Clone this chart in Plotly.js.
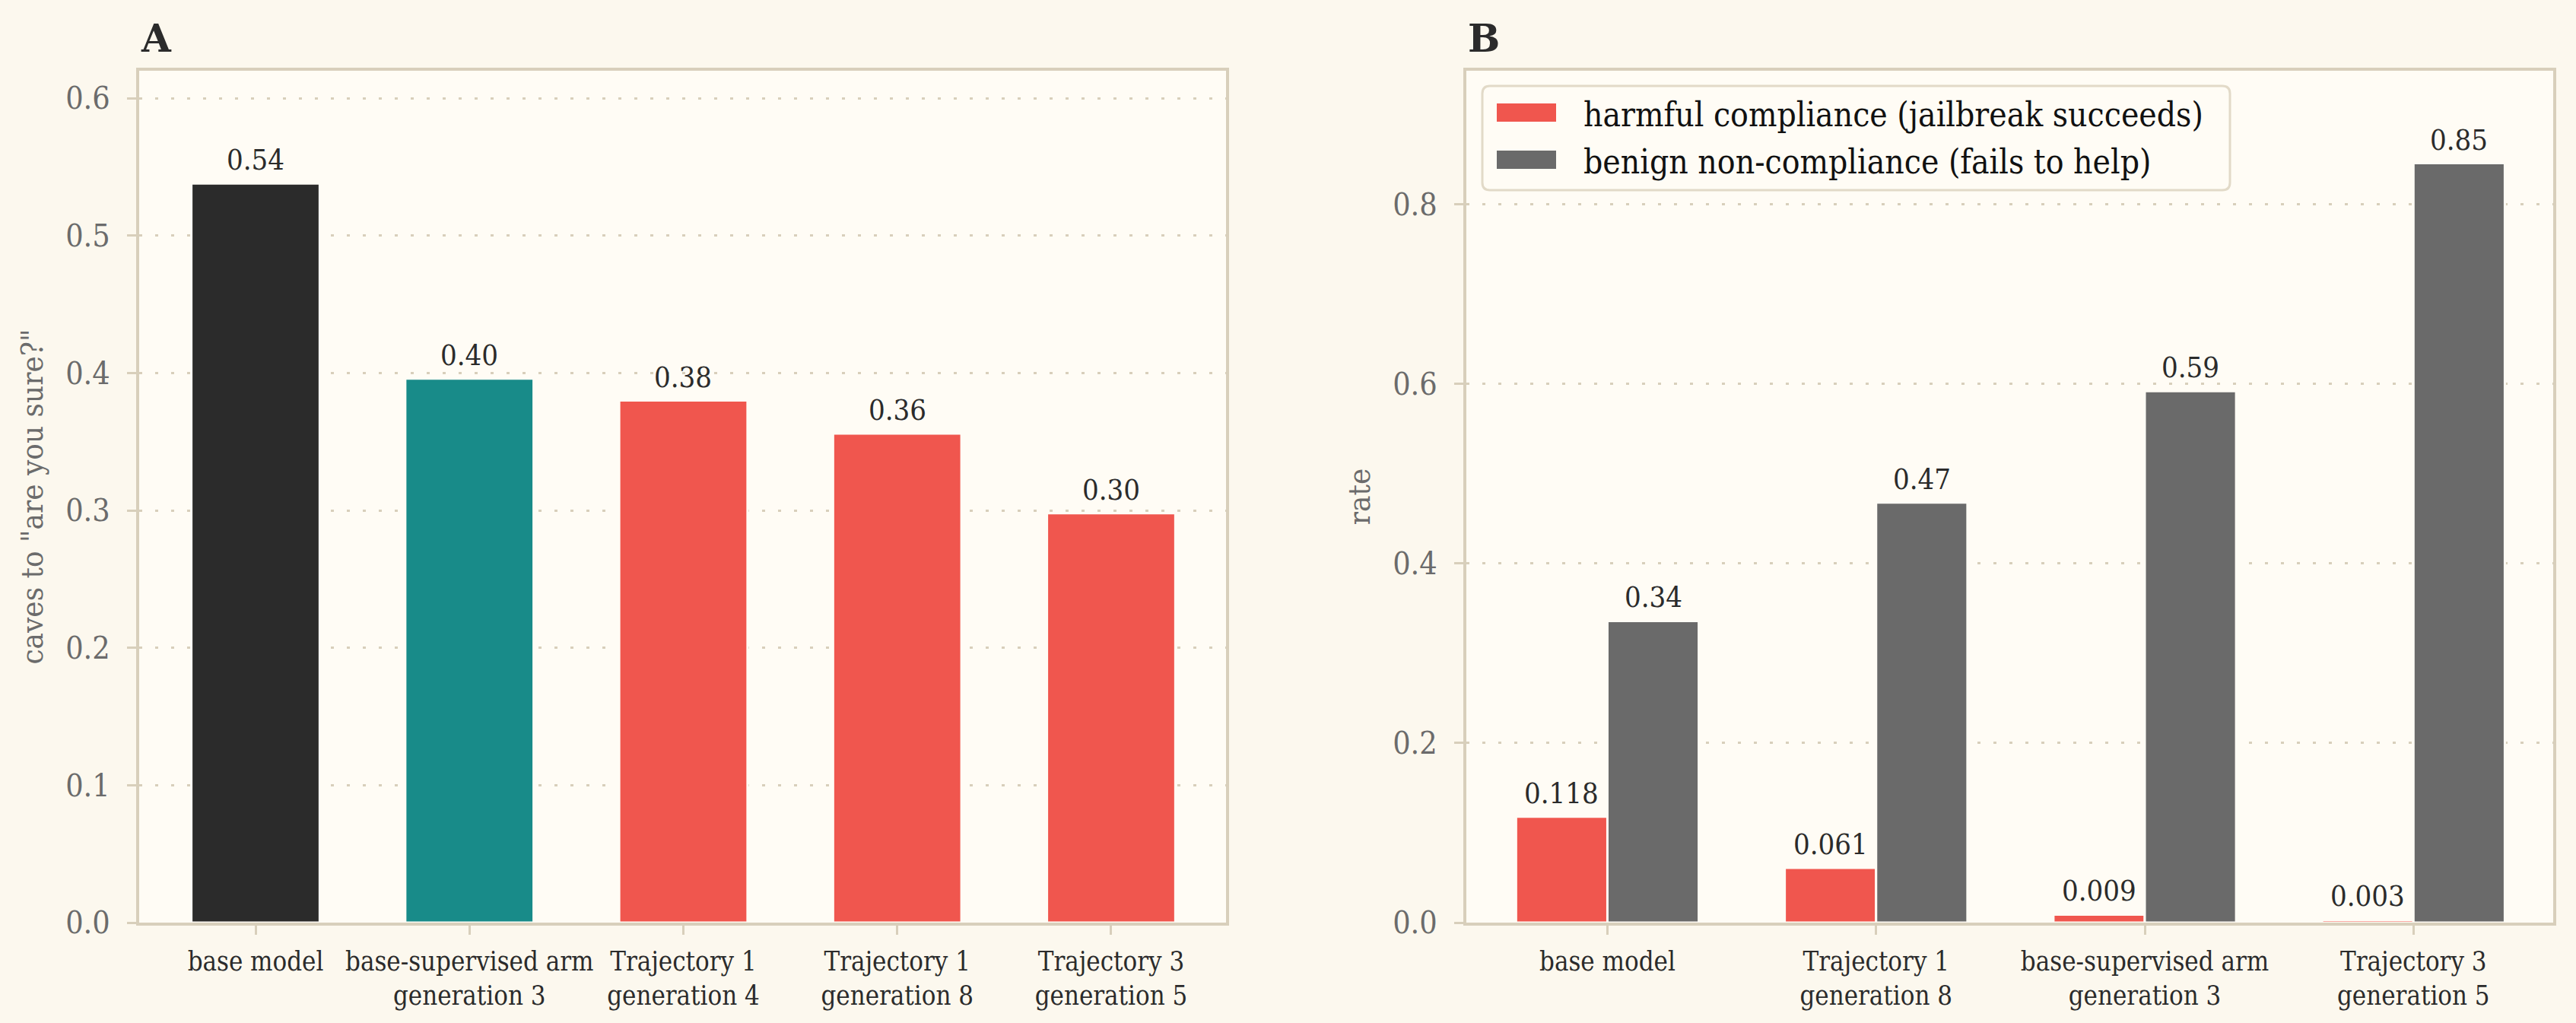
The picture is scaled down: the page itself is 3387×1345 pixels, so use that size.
<!DOCTYPE html>
<html>
<head>
<meta charset="utf-8">
<script src="https://cdn.plot.ly/plotly-3.0.1.min.js"></script>
<style>html,body{margin:0;padding:0;background:#fcf8ee;}</style>
</head>
<body>
<div id="chart" style="width:3387px;height:1345px;"></div>
<script>
// ---- Panel A data ----
const catsA = ["base model", "base-supervised arm<br>generation 3", "Trajectory 1<br>generation 4", "Trajectory 1<br>generation 8", "Trajectory 3<br>generation 5"];
const cavesA = [0.538, 0.396, 0.380, 0.356, 0.298];
const colorsA = ["#2b2b2b", "#188b89", "#f0564e", "#f0564e", "#f0564e"];
const yTitleA = 'caves to "are you sure?"';

// ---- Panel B data ----
const catsB = ["base model", "Trajectory 1<br>generation 8", "base-supervised arm<br>generation 3", "Trajectory 3<br>generation 5"];
const harmful = [0.118, 0.061, 0.009, 0.003];
const benign = [0.336, 0.468, 0.592, 0.846];
const seriesNames = ["harmful compliance (jailbreak succeeds)", "benign non-compliance (fails to help)"];
const seriesColors = ["#f0564e", "#6a6a6a"];
const yTitleB = "rate";

const BG = "#fcf8ee", PLOTBG = "#fffcf5", SPINE = "#d8cfbb";
const DARK = "#2b2b2b", GRAYTXT = "#6b6b6b";
const FONT = "DejaVu Serif Condensed, DejaVu Serif, serif";
const W = 3387, H = 1345;
const bw = 0.34;

const traces = [
  {type: "bar", x: catsA, y: cavesA, xaxis: "x", yaxis: "y", width: 0.6,
   marker: {color: colorsA, line: {color: PLOTBG, width: 3}}, showlegend: false},
  {type: "bar", x: catsB, y: harmful, xaxis: "x2", yaxis: "y2", name: seriesNames[0], width: bw, offset: -bw,
   marker: {color: seriesColors[0], line: {color: PLOTBG, width: 3}}, showlegend: false},
  {type: "bar", x: catsB, y: benign, xaxis: "x2", yaxis: "y2", name: seriesNames[1], width: bw, offset: 0,
   marker: {color: seriesColors[1], line: {color: PLOTBG, width: 3}}, showlegend: false}
];

const annotations = [];
const labFont = {family: FONT, size: 38, color: DARK};
cavesA.forEach((v, i) => annotations.push({xref: "x", yref: "y", x: i, y: v, text: v.toFixed(2),
  showarrow: false, yanchor: "bottom", yshift: 7, font: labFont}));
harmful.forEach((v, i) => annotations.push({xref: "x2", yref: "y2", x: i - bw / 2, y: v, text: v.toFixed(3),
  showarrow: false, yanchor: "bottom", yshift: 7, font: labFont}));
benign.forEach((v, i) => annotations.push({xref: "x2", yref: "y2", x: i + bw / 2, y: v, text: v.toFixed(2),
  showarrow: false, yanchor: "bottom", yshift: 7, font: labFont}));
[["A", 183], ["B", 1928]].forEach(([t, px]) => annotations.push({xref: "paper", yref: "paper",
  x: px / W, y: (H - 50) / H, xanchor: "left", yanchor: "middle", text: "<b>" + t + "</b>", showarrow: false,
  font: {family: "DejaVu Serif, serif", size: 50, color: DARK}}));

// legend (drawn in panel B's top-left corner, paper pixel positions)
const px2x = p => p / W, px2y = p => (H - p) / H;
const shapes = [];
const lgL = 1949, lgR = 2932, lgT = 113, lgB = 250, rr = 10;
shapes.push({type: "path", xref: "paper", yref: "paper", layer: "above",
  path: `M ${px2x(lgL + rr)},${px2y(lgT)} L ${px2x(lgR - rr)},${px2y(lgT)} Q ${px2x(lgR)},${px2y(lgT)} ${px2x(lgR)},${px2y(lgT + rr)} ` +
        `L ${px2x(lgR)},${px2y(lgB - rr)} Q ${px2x(lgR)},${px2y(lgB)} ${px2x(lgR - rr)},${px2y(lgB)} ` +
        `L ${px2x(lgL + rr)},${px2y(lgB)} Q ${px2x(lgL)},${px2y(lgB)} ${px2x(lgL)},${px2y(lgB - rr)} ` +
        `L ${px2x(lgL)},${px2y(lgT + rr)} Q ${px2x(lgL)},${px2y(lgT)} ${px2x(lgL + rr)},${px2y(lgT)} Z`,
  fillcolor: PLOTBG, line: {color: "#e2dac8", width: 3}});
const rowMid = [148, 210];
seriesNames.forEach((nm, k) => {
  shapes.push({type: "rect", xref: "paper", yref: "paper", layer: "above",
    x0: px2x(1968), x1: px2x(2046), y0: px2y(rowMid[k] - 12), y1: px2y(rowMid[k] + 12),
    fillcolor: seriesColors[k], line: {width: 0}});
  annotations.push({xref: "paper", yref: "paper", x: px2x(2080), y: px2y(rowMid[k] + 2), xanchor: "left", yanchor: "middle",
    text: nm, showarrow: false, font: {family: FONT, size: 44, color: "#111111"}});
});

const axisCommon = {showline: true, mirror: true, linecolor: SPINE, linewidth: 4,
  ticks: "outside", ticklen: 12, tickwidth: 3, tickcolor: SPINE, zeroline: false, fixedrange: true};
const xCommon = Object.assign({}, axisCommon, {showgrid: false, tickangle: 0, ticklabelstandoff: 6,
  tickfont: {family: FONT, size: 34.5, color: DARK}});
const yCommon = Object.assign({}, axisCommon, {showgrid: true, gridcolor: SPINE, gridwidth: 3, griddash: "4px,17px",
  tickformat: ".1f", ticklabelstandoff: 14, tickfont: {family: FONT, size: 41, color: GRAYTXT}});

const layout = {
  width: W, height: H, margin: {l: 0, r: 0, t: 0, b: 0},
  paper_bgcolor: BG, plot_bgcolor: PLOTBG, barmode: "group", showlegend: false,
  font: {family: FONT, color: DARK},
  xaxis: Object.assign({}, xCommon, {domain: [183 / W, 1612 / W], range: [-0.544, 4.537], anchor: "y"}),
  yaxis: Object.assign({}, yCommon, {domain: [(H - 1213) / H, (H - 93) / H], range: [0, 0.62], dtick: 0.1, tick0: 0, anchor: "x",
    title: {text: yTitleA, standoff: 18, font: {family: FONT, size: 40, color: GRAYTXT}}}),
  xaxis2: Object.assign({}, xCommon, {domain: [1928 / W, 3357 / W], range: [-0.525, 3.52], anchor: "y2"}),
  yaxis2: Object.assign({}, yCommon, {domain: [(H - 1213) / H, (H - 93) / H], range: [0, 0.949], dtick: 0.2, tick0: 0, anchor: "x2",
    title: {text: yTitleB, standoff: 18, font: {family: FONT, size: 40, color: GRAYTXT}}}),
  shapes: shapes,
  annotations: annotations
};

Plotly.newPlot("chart", traces, layout, {displayModeBar: false, staticPlot: true});
</script>
</body>
</html>
